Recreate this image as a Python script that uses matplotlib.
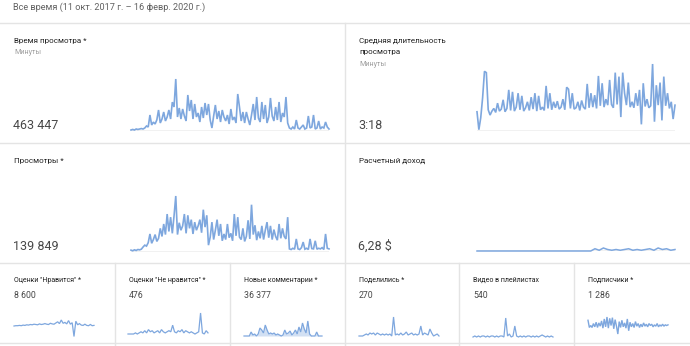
import matplotlib.pyplot as plt

# ============================================================
# DATA
# ============================================================

period_label = "Все время (11 окт. 2017 г. – 16 февр. 2020 г.)"

# Watch time, minutes per period
watch_time = [
    45, 70, 45, 90, 70, 90, 110, 90,
    135, 225, 180, 720,
    270, 400, 315, 500, 945, 360, 540, 855, 450, 630, 945, 540, 1300, 1080,
    2340,
    630, 1035, 540, 990, 675, 450,
    1620, 900, 1395, 540, 1215, 630,
    810, 405, 1080, 585, 1260, 720, 1215, 495,
    135, 675, 1170, 540, 900, 405, 945, 630,
    450, 720, 315, 990, 495, 630, 360, 1665,
    1080, 450, 855, 360, 855, 540, 270, 720,
    1215, 495, 1530, 585,
    405, 1305, 540, 1170, 360, 630, 1485, 675, 450,
    1080, 495, 1305, 405, 810, 630, 1530, 360,
    135, 90, 180, 90, 495, 135, 90, 180, 270, 90, 135, 675,
    135, 180, 720, 90, 135, 450, 90, 180, 135, 405, 180, 90,
]

# Average view duration, minutes
avg_duration = [
    2.9, 0.2, 2.0, 5.0, 9.0, 8.8, 3.2, 2.4,
    3.0, 3.4, 2.8, 4.2, 3.0, 3.3, 4.7, 2.9,
    3.4, 6.2, 3.1, 5.9, 3.0, 3.6, 5.7,
    3.2, 5.3, 3.0, 3.5, 4.4, 3.1,
    5.1, 3.3, 5.7, 3.0, 5.3, 3.2, 3.6,
    3.1, 6.8, 3.4, 5.7, 3.2, 4.4, 3.5,
    4.5, 3.3, 3.6, 4.8, 3.2, 6.6, 6.3, 3.4, 5.7,
    3.3, 3.5, 4.4, 3.1, 4.6, 3.6, 3.3,
    7.1, 3.5, 5.7, 3.6, 5.4,
    3.4, 8.3, 3.8, 7.2, 3.6, 4.8,
    3.9, 7.7, 4.0, 3.5,
    8.8, 4.0, 8.2, 2.1, 8.8, 5.7, 3.9, 7.3,
    3.6, 4.4, 3.5, 5.7, 3.8,
    6.2, 1.0, 7.2, 3.7, 4.8, 3.5,
    3.8, 10.1, 1.4, 6.9, 3.9, 7.3, 1.6, 8.2, 3.8,
    5.7, 3.4, 4.4, 1.8, 3.9,
]

# Views per period
views = [
    30, 20, 35, 25, 40, 35, 45,
    80, 110, 95, 150, 290,
    140, 200, 280, 170,
    220, 380, 250, 450, 280, 610, 330, 560, 300, 580,
    900,
    280, 470, 350, 420, 610, 300, 590, 380, 520, 290, 480, 350, 420, 520, 310, 680, 400, 590,
    110, 240, 480, 200, 350, 520, 260, 450,
    180, 290, 200, 450, 230, 300, 180, 610, 260, 560, 240,
    200, 380, 170, 250, 510, 210, 760, 280, 430, 190, 330, 220,
    420, 200, 350, 480, 230, 420, 200, 360, 250, 190,
    450, 220, 380, 250, 210, 560,
    50, 40, 60, 45, 210, 50, 40, 70, 160, 45, 60, 40,
    210, 55, 50, 180, 45, 60, 50, 70, 40, 290, 60, 50,
]

# Estimated revenue, USD
revenue = [
    0, 0, 0, 0, 0, 0, 0, 0, 0, 0, 0, 0, 0, 0,
    0, 0, 0, 0, 0, 0, 0, 0, 0, 0, 0, 0, 0, 0,
    0.03, 0.01, 0.04, 0.02, 0.01, 0.02, 0.01, 0.02, 0.03, 0.01,
    0.02, 0.01, 0.02, 0.03, 0.01, 0.04, 0.02, 0.03, 0.01, 0.02,
]

likes = [
    0, 1, 1, 2, 1, 3, 2, 4, 3, 5, 4, 6, 5, 4, 7, 5, 6, 8, 6, 5, 9, 7, 6,
    10, 14, 8, 20, 9, 12, 7, 18, 6, 11, -35, 16, 4, 8, 3, 2, 6, 2, 1, 5, 1, 2,
]

dislikes = [
    0, 0, 0, 0, 1, 0, 1, 2, 1, 3, 1, 4, 2, 3, 1, 2, 3, 1, 4, 2, 1, 2,
    3, 2, 8, 2, 1, 3, 2, 4, 1, 3, 2, 1, 2, 1, 0, 1, 2, 19, 1, 0, 3, 1,
]

comments = [
    0, 0, 0, 0, 4, 1, 2, 0, 2, 8, 6, 3, 11, 6, 2, 3, 2, 3, 1, 2, 1, 0,
    1, 6, 2, 3, 5, 1, 3, 6, 2, 9, 4, 13, 7, 3, 15, 2, 0, 0, 0, 4, 0, 0, 0,
]

shares = [
    0, 0, 0, 1, 2, 1, 3, 2, 3, 1, 3, 2, 1, 2, 1, 2, 1, 2, 0, 19, 1, 2,
    1, 3, 1, 2, 4, 1, 2, 3, 1, 2, 1, 2, 10, 1, 3, 2, 1, 7, 3, 0, 1, 2, 0,
]

playlist_adds = [
    0, 1, 0, 1, 0, 1, 1, 0, 1, 0, 1, 1, 0, 1, 0, 1, 1, 0, 19, 1, 3, 0,
    1, 11, 1, 0, 1, 0, 1, 0, 1, 1, 0, 1, 0, 1, 0, 1, 2, 1, 0, 1, 0, 1, 0,
]

subscribers = [
    2.4, 1.3, 1.6, 1.3, 1.9, 1.4, 2.1, 1.3, 2.0, 1.5, 2.3, 1.2, 2.6, 1.4,
    2.9, 1.2, 2.7, 1.6, 2.8, 1.1, 2.5, 1.5, 0.3, 2.2, 1.3, 2.4, 1.4, 2.0,
    1.2, 2.6, 0.8, 2.1, 1.4, 1.9, 1.3, 2.2, 1.5, 1.9, 1.3, 1.8, 1.4, 2.0,
    1.5, 1.8, 1.4, 1.9, 1.6, 1.8, 1.4, 1.7, 1.5, 1.9, 1.4, 1.7, 1.5, 1.8,
    1.5, 1.7, 1.6, 1.7,
]

# card titles, one list of lines per card
big_titles = [["Время просмотра *"], ["Средняя длительность", "просмотра"],
              ["Просмотры *"], ["Расчетный доход"]]
big_units = ["Минуты", "Минуты", "", ""]
big_totals = ["463 447", "3:18", "139 849", "6,28 $"]

small_titles = ['Оценки "Нравится" *', 'Оценки "Не нравится" *',
                "Новые комментарии *", "Поделились *",
                "Видео в плейлистах", "Подписчики *"]
small_totals = ["8 600", "476", "36 377", "270", "540", "1 286"]

# ============================================================
# FIGURE
# ============================================================

W, H = 690, 346
LINE = "#7ea7de"
GRID = "#e4e4e4"

plt.rcParams["font.family"] = ["Roboto", "DejaVu Sans"]

fig = plt.figure(figsize=(W / 100, H / 100), dpi=100)
fig.patch.set_facecolor("white")


def fx(x):
    return x / W


def fy(y):
    return 1 - y / H


def hline(y, x0=0, x1=W):
    fig.add_artist(plt.Line2D([fx(x0), fx(x1)], [fy(y), fy(y)],
                              color=GRID, lw=1))


def vline(x, y0, y1):
    fig.add_artist(plt.Line2D([fx(x), fx(x)], [fy(y0), fy(y1)],
                              color=GRID, lw=1))


def spark(values, x0, x1, y_base, y_peak, lw=1.1, baseline=False, fill=False):
    # place a sparkline so that 0 sits on y_base and the max on y_peak
    vmax = max(values)
    vmin = min(min(values), 0)
    scale = (y_base - y_peak) / vmax
    y_low = y_base + (-vmin) * scale
    ax = fig.add_axes([fx(x0), fy(y_low), fx(x1 - x0), (y_low - y_peak) / H])
    ax.set_xlim(0, len(values) - 1)
    ax.set_ylim(vmin, vmax)
    ax.axis("off")
    xs = range(len(values))
    if baseline:
        ax.axhline(0, color="#f0f0f0", lw=1.3, zorder=0)
    if fill:
        ax.fill_between(xs, 0, values, color=LINE, alpha=0.35, lw=0)
    ax.plot(xs, values, color=LINE, lw=lw, clip_on=False,
            solid_joinstyle="miter")
    return ax


# ============================================================
# HEADER AND GRID LINES
# ============================================================

fig.text(fx(13), fy(7), period_label, fontsize=6.6, color="#616161", va="center")

hline(23)
hline(143)
hline(263)
hline(343)
vline(345, 23, H)
for x in [115, 230, 459, 574]:
    vline(x, 263, H)

# ============================================================
# LARGE CARDS
# ============================================================

card_x = [0, 345, 0, 345]
title_y = [41, 41, 161, 161]
total_y = [125, 125, 246, 246]
unit_y = [53, 65, 0, 0]

for i in range(4):
    for k, line in enumerate(big_titles[i]):
        fig.text(fx(card_x[i] + 14), fy(title_y[i] + 11 * k), line,
                 fontsize=5.8, color="#212121", va="center")
    if big_units[i]:
        fig.text(fx(card_x[i] + 14), fy(unit_y[i]), big_units[i],
                 fontsize=5.2, color="#9e9e9e", va="center")
    fig.text(fx(card_x[i] + 13), fy(total_y[i]), big_totals[i], fontsize=9,
             color="#484848", va="center")

spark(watch_time, 131, 329, 131, 79, lw=1.2, baseline=True)
spark(avg_duration, 477, 675, 131, 64, lw=1.2, baseline=True)
spark(views, 131, 329, 252, 196, lw=1.2, baseline=True)
spark(revenue, 477, 675, 251, 248, baseline=True)

# ============================================================
# SMALL CARDS
# ============================================================

small_x = [0, 115, 230, 345, 459, 574]

for i in range(6):
    fig.text(fx(small_x[i] + 14), fy(280), small_titles[i], fontsize=5,
             color="#212121", va="center")
    fig.text(fx(small_x[i] + 14), fy(295), small_totals[i], fontsize=6.3,
             color="#484848", va="center")

spark(likes, 14, 94, 326, 320, lw=0.9)
spark(dislikes, 128, 208, 334, 313, lw=0.9)
spark(comments, 244, 322, 336, 321, lw=0.9, fill=True)
spark(shares, 359, 439, 336, 317, lw=0.9)
spark(playlist_adds, 473, 553, 337, 318, lw=0.9)
spark(subscribers, 588, 668, 336, 317, lw=1.0)

fig.savefig("out.png", dpi=100, facecolor="white")
